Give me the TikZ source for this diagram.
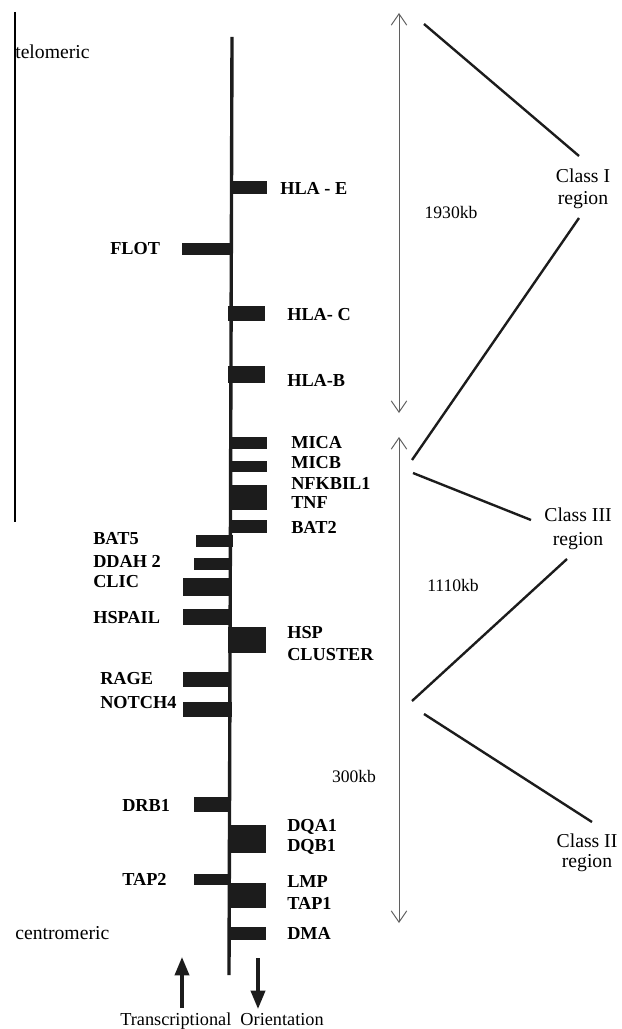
\documentclass[tikz,border=0pt]{standalone}
\usepackage{fontspec}
\setmainfont{Liberation Serif}
\usetikzlibrary{arrows.meta}
\definecolor{InkBlack}{RGB}{28,28,28}
\definecolor{SpanGray}{RGB}{95,95,95}

\begin{document}
\begin{tikzpicture}[x=0.025cm,y=-0.025cm,
    gene/.style={font=\fontsize{13}{15}\selectfont\bfseries,inner sep=0pt,anchor=west},
    note/.style={font=\fontsize{14}{16}\selectfont,inner sep=0pt},
    bar/.style={fill=InkBlack},
    span/.style={SpanGray,line width=0.7pt,
      {Straight Barb[length=8pt,width=11pt]}-{Straight Barb[length=8pt,width=11pt]}},
    link/.style={InkBlack,line width=1.7pt},
    orient/.style={InkBlack,line width=2.4pt,-{Triangle[length=13pt,width=10pt]}}]
  \useasboundingbox (0,0) rectangle (621,1029);

  % frame edge and chromosome
  \coordinate (frameT) at (15,12);
  \coordinate (frameB) at (15,522);
  \draw[line width=0.8pt] (frameT) -- (frameB);
  \coordinate (chrT) at (232,37);
  \coordinate (chrB) at (229,975);
  \draw[InkBlack,line width=2.4pt] (chrT) -- (chrB);

  \node[note,anchor=west] (telo) at (15,52) {telomeric};
  \node[note,anchor=west] (centro) at (15,933) {centromeric};

  % genes to the right of the chromosome
  \fill[bar] (231,181) rectangle (267,194);
  \fill[bar] (228,306) rectangle (265,321);
  \fill[bar] (228,366) rectangle (265,383);
  \fill[bar] (230,437) rectangle (267,449);
  \fill[bar] (230,461) rectangle (267,472);
  \fill[bar] (230,485) rectangle (267,510);
  \fill[bar] (230,520) rectangle (267,533);
  \fill[bar] (228,627) rectangle (266,653);
  \fill[bar] (228,825) rectangle (266,853);
  \fill[bar] (228,883) rectangle (266,908);
  \fill[bar] (228,927) rectangle (266,940);

  \node[gene] (hlaE) at (280,188) {HLA - E};
  \node[gene] (hlaC) at (287,315) {HLA- C};
  \node[gene] (hlaB) at (287,380) {HLA-B};
  \node[gene] (mica) at (291,443) {MICA};
  \node[gene] (micb) at (291,463) {MICB};
  \node[gene] (nfkb) at (291,483) {NFKBIL1};
  \node[gene] (tnf) at (291,503) {TNF};
  \node[gene] (bat2) at (291,527) {BAT2};
  \node[gene] (hsp) at (287,633) {HSP};
  \node[gene] (clus) at (287,655) {CLUSTER};
  \node[gene] (dqa) at (287,827) {DQA1};
  \node[gene] (dqb) at (287,847) {DQB1};
  \node[gene] (lmp) at (287,882) {LMP};
  \node[gene] (tap1) at (287,903) {TAP1};
  \node[gene] (dma) at (287,933) {DMA};

  % genes to the left of the chromosome
  \fill[bar] (182,243) rectangle (231,255);
  \fill[bar] (196,535) rectangle (233,547);
  \fill[bar] (194,558) rectangle (230,570);
  \fill[bar] (183,578) rectangle (230,596);
  \fill[bar] (183,609) rectangle (230,625);
  \fill[bar] (183,672) rectangle (230,687);
  \fill[bar] (183,702) rectangle (232,717);
  \fill[bar] (194,797) rectangle (230,812);
  \fill[bar] (194,874) rectangle (230,885);

  \node[gene] (flot) at (110,249) {FLOT};
  \node[gene] (bat5) at (93,539) {BAT5};
  \node[gene] (ddah) at (93,561) {DDAH 2};
  \node[gene] (clic) at (93,582) {CLIC};
  \node[gene] (hspail) at (93,618) {HSPAIL};
  \node[gene] (rage) at (100,679) {RAGE};
  \node[gene] (notch) at (100,703) {NOTCH4};
  \node[gene] (drb) at (122,805) {DRB1};
  \node[gene] (tap2) at (122,879) {TAP2};

  % transcriptional orientation
  \coordinate (upS) at (182,1008);
  \coordinate (upE) at (182,957);
  \coordinate (dnS) at (258,958);
  \coordinate (dnE) at (258,1009);
  \draw[orient] (upS) -- (upE);
  \draw[orient] (dnS) -- (dnE);
  \node[font=\fontsize{13}{15}\selectfont,inner sep=0pt] (orientTxt) at (222,1021)
    {Transcriptional\ \ Orientation};

  % spans in kb
  \coordinate (spanAt) at (399,13);
  \coordinate (spanAb) at (399,413);
  \coordinate (spanBt) at (399,437);
  \coordinate (spanBb) at (399,923);
  \draw[span] (spanAt) -- (spanAb);
  \draw[span] (spanBt) -- (spanBb);
  \node[font=\fontsize{12.5}{14}\selectfont,inner sep=0pt] (kbA) at (451,212) {1930kb};
  \node[font=\fontsize{12.5}{14}\selectfont,inner sep=0pt] (kbB) at (453,585) {1110kb};
  \node[font=\fontsize{12.5}{14}\selectfont,inner sep=0pt] (kbC) at (354,776) {300kb};

  % regions
  \node[note] (cls1) at (583,176) {Class I};
  \node[note] (reg1) at (583,200) {region};
  \node[note] (cls3) at (578,515) {Class III};
  \node[note] (reg3) at (578,541) {region};
  \node[note] (cls2) at (587,841) {Class II};
  \node[note] (reg2) at (587,863) {region};

  \coordinate (l1a) at (424,24);
  \coordinate (l1b) at (579,156);
  \coordinate (l2a) at (579,218);
  \coordinate (l2b) at (412,460);
  \coordinate (l3a) at (413,473);
  \coordinate (l3b) at (531,520);
  \coordinate (l4a) at (567,559);
  \coordinate (l4b) at (412,701);
  \coordinate (l5a) at (424,714);
  \coordinate (l5b) at (592,822);
  \draw[link] (l1a) -- (l1b);
  \draw[link] (l2a) -- (l2b);
  \draw[link] (l3a) -- (l3b);
  \draw[link] (l4a) -- (l4b);
  \draw[link] (l5a) -- (l5b);
\end{tikzpicture}
\end{document}
